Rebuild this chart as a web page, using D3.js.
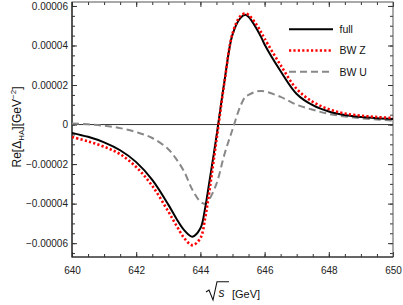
<!DOCTYPE html>
<html>
<head>
<meta charset="utf-8">
<script src="https://cdn.jsdelivr.net/npm/d3@7"></script>
<style>
  body { margin: 0; background: #fff; }
  svg { font-family: "Liberation Sans", Arial, sans-serif; }
  .axis path { display: none; }
  .axis line { stroke: #333; }
</style>
</head>
<body>
<svg id="chart" width="403" height="305"></svg>
<script>
// sqrt(s) in GeV
let energy = [640, 640.5, 641, 641.5, 642, 642.5, 643, 643.25, 643.5, 643.75, 644, 644.15, 644.25, 644.5, 644.75,
              645, 645.25, 645.4, 645.5, 645.75, 645.9, 646, 646.5, 647, 647.5, 648, 648.5, 649, 649.5, 650];

let full = [-4.2e-6, -6.2e-6, -9.0e-6, -1.3e-5, -1.9e-5, -2.8e-5, -4.05e-5, -4.75e-5, -5.35e-5, -5.67e-5, -5.25e-5, -4.2e-5, -3.2e-5, -6.0e-6, 2.2e-5,
            4.55e-5, 5.4e-5, 5.55e-5, 5.45e-5, 4.85e-5, 4.4e-5, 4.05e-5, 2.7e-5, 1.55e-5, 9.8e-6, 6.6e-6, 4.8e-6, 3.8e-6, 3.2e-6, 2.8e-6];

let bwZ = [-6.3e-6, -8.5e-6, -1.12e-5, -1.5e-5, -2.15e-5, -3.1e-5, -4.4e-5, -5.1e-5, -5.75e-5, -6.1e-5, -5.75e-5, -4.7e-5, -3.7e-5, -8.0e-6, 2.15e-5,
           4.6e-5, 5.5e-5, 5.62e-5, 5.55e-5, 5.05e-5, 4.65e-5, 4.35e-5, 3.0e-5, 1.8e-5, 1.15e-5, 7.8e-6, 5.6e-6, 4.5e-6, 3.8e-6, 3.3e-6];

let bwU = [5e-7, 1e-7, -6e-7, -1.8e-6, -3.8e-6, -6.8e-6, -1.25e-5, -1.75e-5, -2.4e-5, -3.3e-5, -3.9e-5, -4.0e-5, -3.85e-5, -3.0e-5, -1.5e-5,
           -2.5e-6, 9.5e-6, 1.4e-5, 1.5e-5, 1.68e-5, 1.7e-5, 1.68e-5, 1.4e-5, 1.0e-5, 7.5e-6, 5.4e-6, 4.1e-6, 3.2e-6, 2.5e-6, 2.0e-6];

let xMajor = [640, 642, 644, 646, 648, 650];
let yMajor = [-0.00006, -0.00004, -0.00002, 0, 0.00002, 0.00004, 0.00006];
let legendNames = ["full", "BW Z", "BW U"];

let svg = d3.select("#chart");
let mLeft = 72, mRight = 393, mTop = 2, mBottom = 257;

let x = d3.scaleLinear().domain([640, 650]).range([mLeft, mRight]);
let y = d3.scaleLinear().domain([-0.000067, 0.000062]).range([mBottom, mTop]);

let xMinor = d3.range(640, 650.01, 0.5);
let yMinor = d3.range(-0.000065, 0.0000601, 0.000005);

function fmtY(d) {
  if (Math.abs(d) < 1e-12) return "0";
  return d3.format(".5f")(d);
}

// minor ticks (all four sides, pointing inward)
svg.append("g").attr("class", "axis").attr("transform", `translate(0,${mBottom})`)
  .call(d3.axisBottom(x).tickValues(xMinor).tickSize(-3).tickFormat(""));
svg.append("g").attr("class", "axis").attr("transform", `translate(0,${mTop})`)
  .call(d3.axisTop(x).tickValues(xMinor).tickSize(-3).tickFormat(""));
svg.append("g").attr("class", "axis").attr("transform", `translate(${mLeft},0)`)
  .call(d3.axisLeft(y).tickValues(yMinor).tickSize(-3).tickFormat(""));
svg.append("g").attr("class", "axis").attr("transform", `translate(${mRight},0)`)
  .call(d3.axisRight(y).tickValues(yMinor).tickSize(-3).tickFormat(""));

// major ticks + labels
svg.append("g").attr("class", "axis").attr("transform", `translate(0,${mBottom})`)
  .call(d3.axisBottom(x).tickValues(xMajor).tickSize(-5).tickPadding(10).tickFormat(d3.format("d")));
svg.append("g").attr("class", "axis").attr("transform", `translate(0,${mTop})`)
  .call(d3.axisTop(x).tickValues(xMajor).tickSize(-5).tickFormat(""));
svg.append("g").attr("class", "axis").attr("transform", `translate(${mLeft},0)`)
  .call(d3.axisLeft(y).tickValues(yMajor).tickSize(-5).tickPadding(4).tickFormat(fmtY));
svg.append("g").attr("class", "axis").attr("transform", `translate(${mRight},0)`)
  .call(d3.axisRight(y).tickValues(yMajor).tickSize(-5).tickFormat(""));

svg.selectAll(".axis text").attr("font-size", 10).attr("fill", "#222")
  .attr("font-family", "Liberation Sans, Arial, sans-serif");

// frame
svg.append("rect")
  .attr("x", mLeft).attr("y", mTop)
  .attr("width", mRight - mLeft).attr("height", mBottom - mTop)
  .attr("fill", "none").attr("stroke", "#555").attr("stroke-width", 1);
svg.append("path")
  .attr("d", `M${mLeft},${mTop}V${mBottom}H${mRight}`)
  .attr("fill", "none").attr("stroke", "#222").attr("stroke-width", 1.2);

// zero line
svg.append("line")
  .attr("x1", mLeft).attr("x2", mRight)
  .attr("y1", y(0)).attr("y2", y(0))
  .attr("stroke", "#333").attr("stroke-width", 1);

let series = [
  {name: legendNames[0], values: full, color: "#000", dash: null, width: 2},
  {name: legendNames[1], values: bwZ, color: "#ff0000", dash: "2.2,2.2", width: 2.6},
  {name: legendNames[2], values: bwU, color: "#888", dash: "7,4", width: 2}
];

let line = d3.line()
  .x((d, i) => x(energy[i]))
  .y(d => y(d))
  .curve(d3.curveCatmullRom.alpha(0.5));

svg.append("clipPath").attr("id", "clip")
  .append("rect").attr("x", mLeft).attr("y", mTop)
  .attr("width", mRight - mLeft).attr("height", mBottom - mTop);

// draw grey first, then black, then red dots on top
svg.append("g").attr("clip-path", "url(#clip)")
  .selectAll("path")
  .data([series[2], series[0], series[1]])
  .enter()
  .append("path")
  .attr("d", d => line(d.values))
  .attr("fill", "none")
  .attr("stroke", d => d.color)
  .attr("stroke-width", d => d.width)
  .attr("stroke-dasharray", d => d.dash);

// legend
let legendY = [29.3, 50.5, 71.7];
let legend = svg.append("g");
series.forEach((s, i) => {
  legend.append("line")
    .attr("x1", 289).attr("x2", 333)
    .attr("y1", legendY[i]).attr("y2", legendY[i])
    .attr("stroke", s.color).attr("stroke-width", s.width)
    .attr("stroke-dasharray", s.dash);
  legend.append("text")
    .attr("x", 339.5).attr("y", legendY[i] + 3.8)
    .attr("font-size", 10.5).attr("fill", "#111")
    .text(s.name);
});

// y label
let yl = svg.append("text")
  .attr("transform", "translate(21,127) rotate(-90)")
  .attr("text-anchor", "middle")
  .attr("font-size", 12).attr("fill", "#111");
yl.append("tspan").text("Re[Δ");
yl.append("tspan").attr("font-size", 8).attr("dy", 3).text("HA");
yl.append("tspan").attr("dy", -3).text("][GeV");
yl.append("tspan").attr("font-size", 8).attr("dy", -5).text("−2");
yl.append("tspan").attr("dy", 5).text("]");

// x label: sqrt(s) [GeV]
let xl = svg.append("g");
xl.append("path")
  .attr("d", "M206,292 L209,290 L213,300 L217,281.7 L229,281.7")
  .attr("fill", "none").attr("stroke", "#111").attr("stroke-width", 1.1);
xl.append("text").attr("x", 218.5).attr("y", 297)
  .attr("font-size", 12).attr("font-style", "italic").attr("fill", "#111").text("s");
xl.append("text").attr("x", 232).attr("y", 297.5)
  .attr("font-size", 11).attr("fill", "#111").text("[GeV]");
</script>
</body>
</html>
